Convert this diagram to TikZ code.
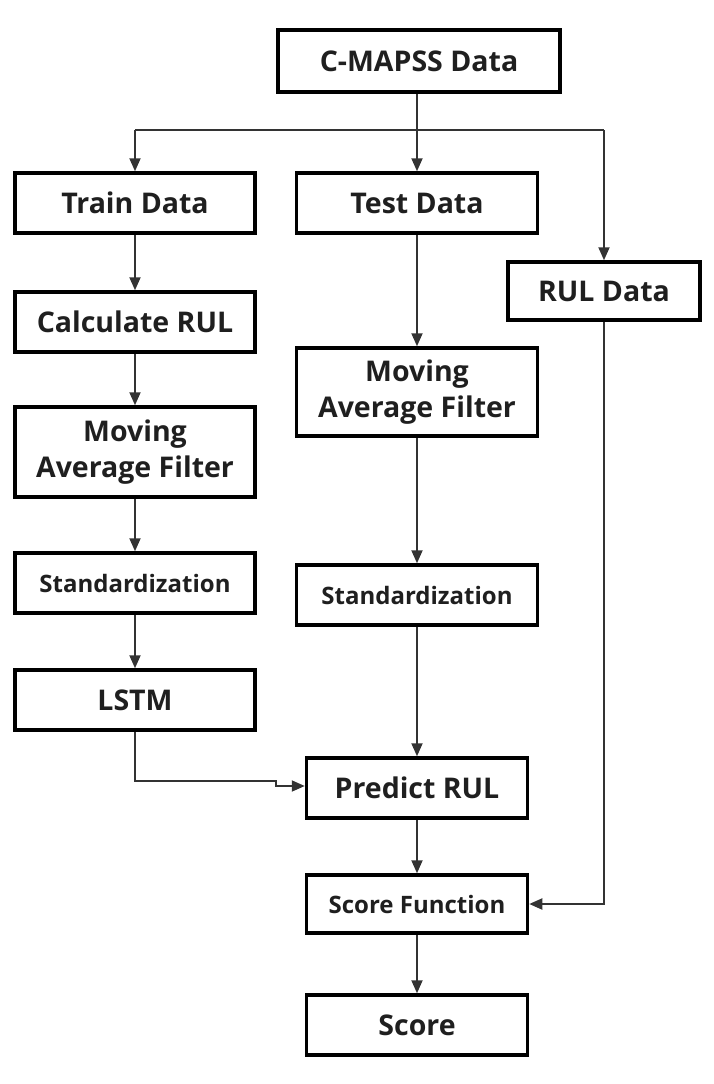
\documentclass[tikz,border=0pt]{standalone}
\usepackage{fontspec}
\setmainfont{Open Sans}
\usetikzlibrary{arrows.meta}
\begin{document}
\begin{tikzpicture}[x=1pt,y=-1pt,
  box/.style={draw=black,line width=3.5pt,fill=white,inner sep=0pt,align=center,
    text=black!88,font=\fontsize{28.5}{36}\selectfont\bfseries},
  smallbox/.style={box,font=\fontsize{24}{30}\selectfont\bfseries},
  line/.style={draw=black!80,line width=1.9pt},
  conn/.style={line,-{Triangle[length=13pt,width=11pt]}}]
\useasboundingbox (0,0) rectangle (714,1084);
\fill[white] (0,0) rectangle (714,1084);
% nodes
\node[box,minimum width=282pt,minimum height=62pt] (cm) at (419,61) {C-MAPSS Data};
\node[box,minimum width=240pt,minimum height=60pt] (tr) at (135,203) {Train Data};
\node[box,minimum width=241pt,minimum height=60pt] (te) at (417,203) {Test Data};
\node[box,minimum width=192pt,minimum height=58pt] (rul) at (604,291) {RUL Data};
\node[box,minimum width=240pt,minimum height=60pt] (calc) at (135,322) {Calculate RUL};
\node[box,minimum width=240pt,minimum height=90pt] (maf1) at (135,452) {Moving\\Average Filter};
\node[box,minimum width=241pt,minimum height=88pt] (maf2) at (417,392) {Moving\\Average Filter};
\node[smallbox,minimum width=240pt,minimum height=60pt] (std1) at (135,583) {Standardization};
\node[smallbox,minimum width=241pt,minimum height=60pt] (std2) at (417,595) {Standardization};
\node[box,minimum width=240pt,minimum height=60pt] (lstm) at (135,700) {LSTM};
\node[box,minimum width=221pt,minimum height=60pt] (pred) at (417,788) {Predict RUL};
\node[smallbox,minimum width=221pt,minimum height=58pt] (sf) at (417,904) {Score Function};
\node[box,minimum width=221pt,minimum height=60pt] (sc) at (417,1025) {Score};
% split
\coordinate (sp) at (417,130);
\draw[line] (sp |- cm.south) -- (sp);
\draw[line] (135,130) -- (604,130);
\draw[conn] (tr.north |- sp) -- (tr.north);
\draw[conn] (sp) -- (te.north);
\draw[conn] (rul.north |- sp) -- (rul.north);
% left column
\draw[conn] (tr) -- (calc);
\draw[conn] (calc) -- (maf1);
\draw[conn] (maf1) -- (std1);
\draw[conn] (std1) -- (lstm);
% middle column
\draw[conn] (te) -- (maf2);
\draw[conn] (maf2) -- (std2);
\draw[conn] (std2) -- (pred);
\draw[conn] (pred) -- (sf);
\draw[conn] (sf) -- (sc);
% LSTM to predict
\draw[conn] (lstm.south) -- (135,781) -- (276,781) -- (276,786) -- (pred.west |- 0,786);
% RUL to score
\draw[conn] (rul.south) |- (sf.east);
\end{tikzpicture}
\end{document}
